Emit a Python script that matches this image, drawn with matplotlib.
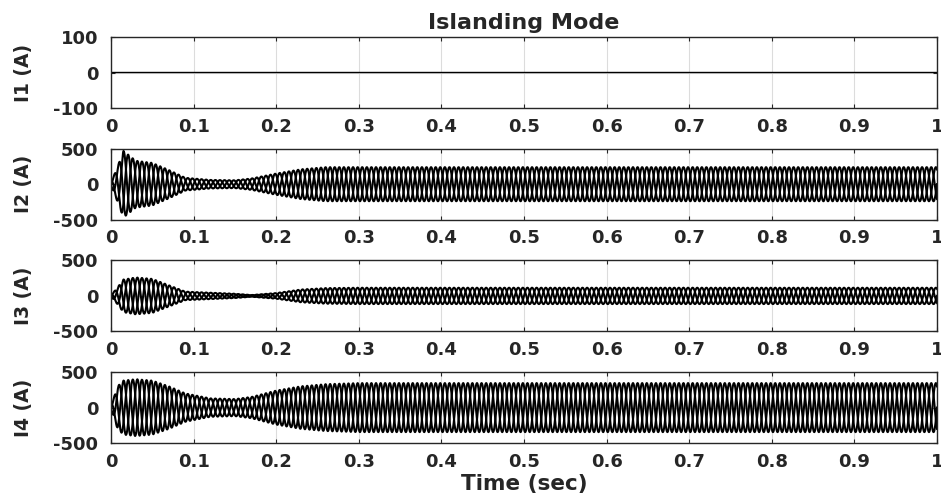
import numpy as np
import matplotlib
matplotlib.use("Agg")
import matplotlib.pyplot as plt

plt.rcParams['font.family'] = ['DejaVu Sans']
plt.rcParams['axes.unicode_minus'] = False

# envelope knots (time in s, peak current in A)
env_t = [0.0, 0.008, 0.015, 0.03, 0.05, 0.07, 0.09, 0.12, 0.15, 0.17, 0.2, 0.23, 0.26, 0.3, 1.0]
i2_env = [20, 250, 470, 330, 300, 200, 90, 60, 55, 80, 150, 210, 240, 240, 240]
i3_env = [10, 120, 230, 260, 240, 150, 60, 45, 30, 12, 40, 90, 110, 115, 115]
i4_env = [20, 300, 380, 400, 380, 300, 200, 130, 120, 150, 240, 300, 330, 345, 345]

freq = 60.0  # Hz
y_labels = ['I1 (A)', 'I2 (A)', 'I3 (A)', 'I4 (A)']
y_limits = [(-100, 100), (-500, 500), (-500, 500), (-500, 500)]
y_ticks = [[-100, 0, 100], [-500, 0, 500], [-500, 0, 500], [-500, 0, 500]]
x_ticks = [0, 0.1, 0.2, 0.3, 0.4, 0.5, 0.6, 0.7, 0.8, 0.9, 1]
x_ticklabels = ['0', '0.1', '0.2', '0.3', '0.4', '0.5', '0.6', '0.7', '0.8', '0.9', '1']

t = np.linspace(0, 1, 30001)


def three_phase(env_vals):
    amp = np.interp(t, env_t, env_vals)
    return [amp * np.sin(2 * np.pi * freq * t + k * 2 * np.pi / 3) for k in range(3)]


signals = [
    [np.zeros_like(t)],
    three_phase(i2_env),
    three_phase(i3_env),
    three_phase(i4_env),
]

fig = plt.figure(figsize=(9.41, 4.95), dpi=100)
W, H = 941, 495
left, right = 111, 937
top0, h, gap = 37, 71, 40.7
txt = '#262626'

for i in range(4):
    top = top0 + i * (h + gap)
    ax = fig.add_axes([left / W, 1 - (top + h) / H, (right - left) / W, h / H])
    for s in signals[i]:
        ax.plot(t, s, color='black', linewidth=1.5 if i else 1.0)
    ax.set_xlim(0, 1)
    ax.set_ylim(*y_limits[i])
    ax.set_yticks(y_ticks[i])
    ax.set_xticks(x_ticks)
    ax.set_xticklabels(x_ticklabels)
    ax.grid(True, color='#dcdcdc', linewidth=0.8)
    ax.set_axisbelow(True)
    ax.tick_params(direction='in', top=True, right=True, length=3,
                   labelsize=13, width=0.8, colors=txt)
    ax.tick_params(axis='x', pad=7)
    ax.tick_params(axis='y', pad=9)
    for lab in ax.get_xticklabels() + ax.get_yticklabels():
        lab.set_fontweight('bold')
    for sp in ax.spines.values():
        sp.set_linewidth(1.0)
        sp.set_color(txt)
    ax.set_ylabel(y_labels[i], fontsize=13.5, fontweight='bold', color=txt, labelpad=15)
    if i == 0:
        ax.set_title('Islanding Mode', fontsize=16, fontweight='bold', color=txt, pad=6)
    if i == 3:
        ax.set_xlabel('Time (sec)', fontsize=15.5, fontweight='bold', color=txt, labelpad=2)

fig.savefig('out.png', dpi=100)
